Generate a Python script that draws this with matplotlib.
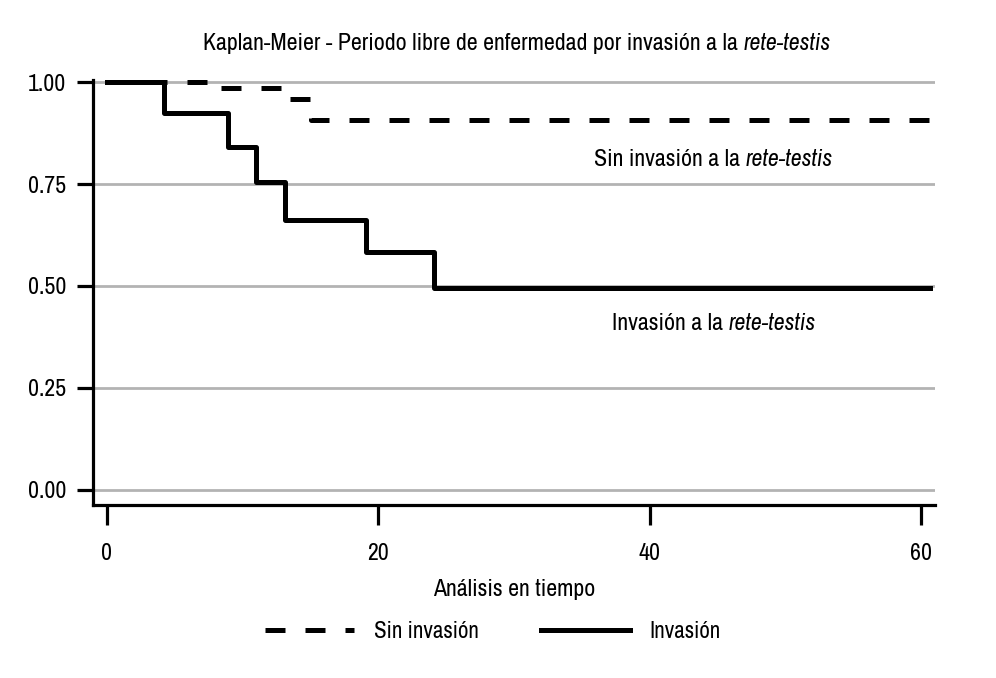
import matplotlib
matplotlib.use('Agg')
import matplotlib.pyplot as plt

plt.rcParams['font.family'] = ['Archivo Narrow', 'Roboto Condensed', 'DejaVu Sans']

# Kaplan-Meier step data
t_sin = [0, 8, 13, 15, 60.8]
s_sin = [1.0, 0.985, 0.958, 0.907, 0.907]

t_inv = [0, 4.2, 8.9, 11.0, 13.1, 19.1, 24.1, 60.6]
s_inv = [1.0, 0.925, 0.84, 0.756, 0.662, 0.583, 0.496, 0.496]

yticks = [0.0, 0.25, 0.5, 0.75, 1.0]
ytick_labels = ['0.00', '0.25', '0.50', '0.75', '1.00']
xticks = [0, 20, 40, 60]

fs = 17.2

fig = plt.figure(figsize=(9.96, 6.78), dpi=100)
ax = fig.add_axes([93 / 996, 1 - 505 / 678, (935 - 93) / 996, (505 - 80) / 678])

# grid lines
for y in yticks:
    ax.axhline(y, color='#b3b3b3', lw=2.0, zorder=1)

ax.step(t_sin, s_sin, where='post', color='black', lw=3.6,
        dashes=(4.0, 4.0), zorder=3, label='Sin invasión', clip_on=False)
ax.step(t_inv, s_inv, where='post', color='black', lw=3.6,
        zorder=4, label='Invasión', clip_on=False)

ax.set_xlim(-1.03, 61.0)
ax.set_ylim(-0.037, 1.005)

for side in ['top', 'right']:
    ax.spines[side].set_visible(False)
for side in ['left', 'bottom']:
    ax.spines[side].set_linewidth(2.3)

ax.set_yticks(yticks)
ax.set_yticklabels(ytick_labels)
ax.set_xticks(xticks)
ax.tick_params(axis='y', length=11.5, width=2.3, pad=8, labelsize=fs)
ax.tick_params(axis='x', length=14.4, width=2.3, pad=13, labelsize=fs)

ax.set_xlabel('Análisis en tiempo', fontsize=fs, labelpad=11)

# mixed upright/italic labels
def mixed_text(x, y, normal, italic, size):
    t1 = fig.text(x, y, normal, fontsize=size, ha='left', va='center')
    t2 = fig.text(x, y, italic, fontsize=size, ha='left', va='center', style='italic')
    fig.canvas.draw()
    r = fig.canvas.get_renderer()
    w1 = t1.get_window_extent(r).width / fig.bbox.width
    w2 = t2.get_window_extent(r).width / fig.bbox.width
    start = x - (w1 + w2) / 2
    t1.set_x(start)
    t2.set_x(start + w1)

mixed_text(517 / 996, 1 - 44 / 678, 'Kaplan-Meier - Periodo libre de enfermedad por invasión a la ', 'rete-testis', fs)
mixed_text(713 / 996, 1 - 160 / 678, 'Sin invasión a la ', 'rete-testis', fs)
mixed_text(714 / 996, 1 - 323 / 678, 'Invasión a la ', 'rete-testis', fs)

fig.legend(loc='center', bbox_to_anchor=(493 / 996, 1 - 632 / 678), ncol=2, frameon=False,
           fontsize=16.6, handlelength=3.85, columnspacing=2.7, handletextpad=0.85)

fig.savefig('out.png', dpi=100)
